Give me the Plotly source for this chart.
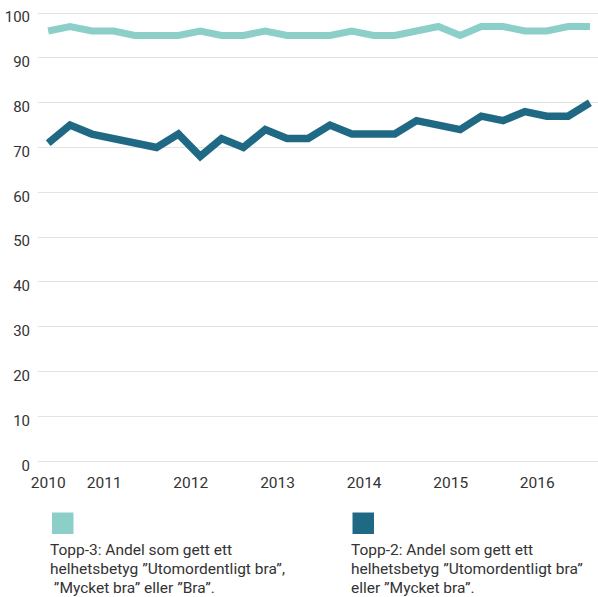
import plotly.graph_objects as go
from datetime import datetime, timedelta

# Survey rounds (roughly quarterly)
dates = [
    "2010-05-10", "2010-08-10", "2010-11-10", "2011-02-10", "2011-05-10",
    "2011-08-10", "2011-11-10", "2012-02-10", "2012-05-10", "2012-08-10",
    "2012-11-10", "2013-02-10", "2013-05-10", "2013-08-10", "2013-11-10",
    "2014-02-10", "2014-05-10", "2014-08-10", "2014-11-10", "2015-02-10",
    "2015-05-10", "2015-08-10", "2015-11-10", "2016-02-10", "2016-05-10",
    "2016-08-10",
]

topp3 = [96, 97, 96, 96, 95, 95, 95, 96, 95, 95, 96, 95, 95,
         95, 96, 95, 95, 96, 97, 95, 97, 97, 96, 96, 97, 97]
topp2 = [71, 75, 73, 72, 71, 70, 73, 68, 72, 70, 74, 72, 72,
         75, 73, 73, 73, 76, 75, 74, 77, 76, 78, 77, 77, 80]

year_labels = ["2010", "2011", "2012", "2013", "2014", "2015", "2016"]
year_ticks = [dates[0], "2011-01-01", "2012-01-01", "2013-01-01",
              "2014-01-01", "2015-01-01", "2016-01-01"]

legend_topp3 = ["Topp-3: Andel som gett ett",
                "helhetsbetyg ”Utomordentligt bra”,",
                " ”Mycket bra” eller ”Bra”."]
legend_topp2 = ["Topp-2: Andel som gett ett",
                "helhetsbetyg ”Utomordentligt bra”",
                "eller ”Mycket bra”."]

LIGHT = "#8ccfc8"
DARK = "#1f6984"
TEXT = "#333333"
FONT = "Roboto"

W, H = 598, 597
ML, MR, MT, MB = 38, 0, 9, 131

fig = go.Figure()
fig.add_trace(go.Scatter(x=dates, y=topp3, mode="lines",
                         line=dict(color=LIGHT, width=7), name="Topp-3",
                         showlegend=False))
fig.add_trace(go.Scatter(x=dates, y=topp2, mode="lines",
                         line=dict(color=DARK, width=7.5), name="Topp-2",
                         showlegend=False))

first = datetime.fromisoformat(dates[0])
last = datetime.fromisoformat(dates[-1])
x0 = (first - timedelta(days=43)).strftime("%Y-%m-%d")
x1 = (last + timedelta(days=34)).strftime("%Y-%m-%d")


def px_to_paper(px, py):
    pw = W - ML - MR
    ph = H - MT - MB
    return (px - ML) / pw, 1 - (py - MT) / ph


# Legend swatches and captions below the plot, one line per annotation
for sx, color, lines in [(52, LIGHT, legend_topp3), (352.5, DARK, legend_topp2)]:
    ax0, ay0 = px_to_paper(sx, 534)
    ax1, ay1 = px_to_paper(sx + 21.5, 512.5)
    fig.add_shape(type="rect", xref="paper", yref="paper",
                  x0=ax0, y0=ay0, x1=ax1, y1=ay1,
                  fillcolor=color, line=dict(width=0))
    for i, line in enumerate(lines):
        tx, ty = px_to_paper(sx - 4, 550 + 19 * i)
        fig.add_annotation(xref="paper", yref="paper", x=tx, y=ty,
                           xanchor="left", yanchor="middle", align="left",
                           text=line, showarrow=False,
                           font=dict(family=FONT, size=15.5, color=TEXT))

fig.update_layout(
    width=W, height=H,
    margin=dict(l=ML, r=MR, t=MT, b=MB, pad=0),
    paper_bgcolor="white", plot_bgcolor="white",
    font=dict(family=FONT, size=15, color=TEXT),
    xaxis=dict(range=[x0, x1], type="date", tickmode="array",
               tickvals=year_ticks, ticktext=year_labels,
               tickfont=dict(size=15.5),
               showgrid=False, zeroline=False, showline=False,
               ticks="", ticklabelstandoff=5),
    yaxis=dict(range=[-1.05, 100.9], tickmode="array",
               tickvals=list(range(0, 101, 10)),
               showgrid=True, gridcolor="#e3e3e3", gridwidth=1.2,
               zeroline=False, showline=False, ticks="",
               ticklabelstandoff=7, ticklabelshift=4),
)

fig.write_html("out.html")
